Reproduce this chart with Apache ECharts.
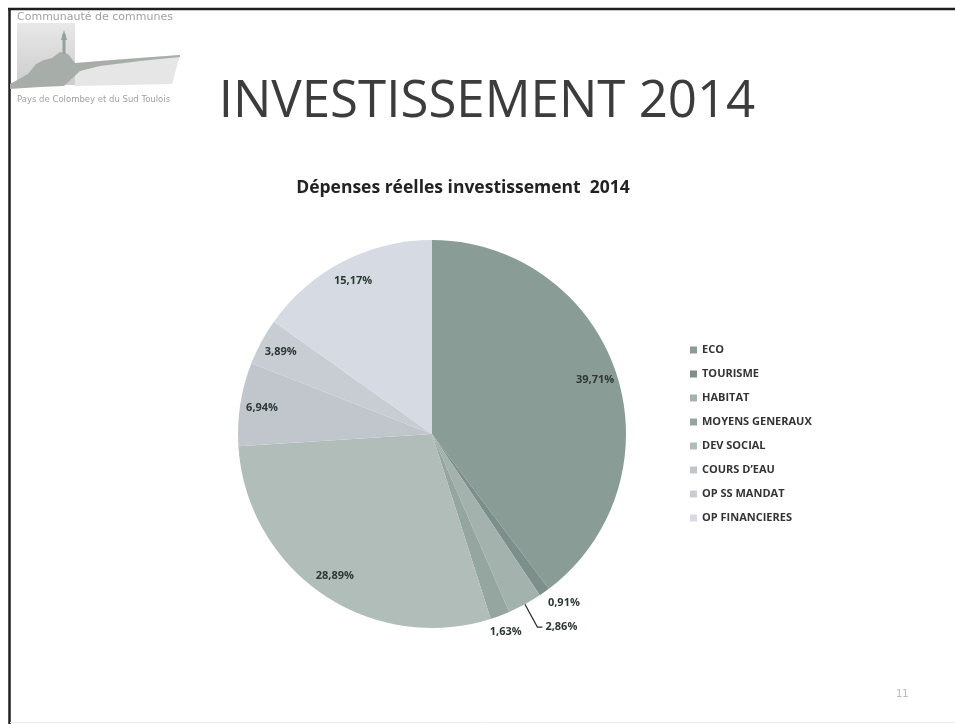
<!DOCTYPE html>
<html><head><meta charset="utf-8">
<script src="https://cdn.jsdelivr.net/npm/echarts@6/dist/echarts.min.js"></script>
<style>html,body{margin:0;padding:0;background:#fff}#c{width:955px;height:724px}</style>
</head><body><div id="c"></div>
<script>
// ---- data ----
const categories = ['ECO', 'TOURISME', 'HABITAT', 'MOYENS GENERAUX', 'DEV SOCIAL', 'COURS D’EAU', 'OP SS MANDAT', 'OP FINANCIERES'];
const values = [39.71, 0.91, 2.86, 1.63, 28.89, 6.94, 3.89, 15.17];
const mainTitle = 'INVESTISSEMENT 2014';
const chartTitle = 'Dépenses réelles investissement  2014';
const pageNumber = '11';

// ---- styles ----
const sliceColors = ['#8a9c96', '#7d8f8a', '#a3b2ad', '#95a6a0', '#b1bdb9', '#c1c6cd', '#c8cdd3', '#d6dae2'];
const labelColor = '#2b3833';
const center = [432, 434];
const R = 194;
// label style for small slices (outside)
const outsideLabel = {
  1: { len: 13, len2: 0, showLine: false, dist: 0, dx: -4 },
  2: { len: 26, len2: 5, showLine: true, dist: 3, dx: 0 },
  3: { len: 16, len2: 0, showLine: false, dist: 0, centerAlign: true }
};

const fmt = v => v.toFixed(2).replace('.', ',') + '%';

const sliceData = categories.map((n, i) => ({ name: n, value: values[i], itemStyle: { color: sliceColors[i] } }));
const labelData = categories.map((n, i) => {
  const o = outsideLabel[i];
  if (!o) return { name: n, value: values[i], label: { position: 'inside' } };
  return {
    name: n, value: values[i],
    label: { position: 'outside', distanceToLabelLine: o.dist },
    labelLine: { show: o.showLine, length: o.len, length2: o.len2, lineStyle: { color: '#2a2a2a', width: 1.2 } }
  };
});

const chart = echarts.init(document.getElementById('c'), null, { renderer: 'canvas' });
chart.setOption({
  backgroundColor: '#ffffff',
  animation: false,
  title: [
    { text: mainTitle, left: 482, top: 72, textAlign: 'center',
      textStyle: { fontFamily: 'Open Sans', fontSize: 51, fontWeight: 'normal', color: '#3c3c3c' } },
    { text: chartTitle, left: 458, top: 174, textAlign: 'center',
      textStyle: { fontFamily: 'Open Sans', fontSize: 17.5, fontWeight: 'bold', color: '#222' } }
  ],
  legend: {
    orient: 'vertical', left: 690, top: 344, padding: 0,
    data: categories, icon: 'rect', itemWidth: 7, itemHeight: 7, itemGap: 12,
    textStyle: { fontFamily: 'Open Sans', fontSize: 11, fontWeight: 'bold', color: '#333', lineHeight: 12 },
    selectedMode: false
  },
  series: [
    {
      type: 'pie', center: center, radius: R, startAngle: 90, clockwise: true,
      label: { show: false }, labelLine: { show: false },
      itemStyle: { borderWidth: 0 },
      emphasis: { disabled: true },
      data: sliceData
    },
    {
      type: 'pie', center: center, radius: [R - 50, R], startAngle: 90, clockwise: true,
      silent: true, avoidLabelOverlap: false,
      itemStyle: { color: 'rgba(0,0,0,0)' },
      label: { show: true, formatter: p => fmt(p.value), fontFamily: 'Open Sans', fontSize: 11, fontWeight: 'bold', color: labelColor },
      labelLayout: function (p) {
        const o = outsideLabel[p.dataIndex];
        if (o && o.centerAlign) return { dx: -p.labelRect.width / 2, dy: 1 };
        if (o && o.dx) return { dx: o.dx };
        return {};
      },
      emphasis: { disabled: true },
      data: labelData
    }
  ],
  graphic: [
    // slide frame
    { type: 'line', shape: { x1: 9.5, y1: 8, x2: 9.5, y2: 724 }, style: { stroke: '#1e1e1e', lineWidth: 2.5 } },
    { type: 'line', shape: { x1: 8, y1: 9, x2: 955, y2: 9 }, style: { stroke: '#1e1e1e', lineWidth: 2.5 } },
    { type: 'line', shape: { x1: 10, y1: 722.5, x2: 955, y2: 722.5 }, style: { stroke: '#ececec', lineWidth: 1 } },
    // logo
    { type: 'text', left: 17, top: 12, style: { text: 'Communauté de communes', font: '11px "DejaVu Sans"', fill: '#a0a0a0' } },
    { type: 'rect', shape: { x: 17, y: 23, width: 58, height: 62 },
      style: { fill: new echarts.graphic.LinearGradient(0, 0, 0, 1, [{ offset: 0, color: '#e8e8e8' }, { offset: 1, color: '#cdcdcd' }]) } },
    { type: 'polygon', shape: { points: [[75, 64], [110, 60], [150, 57], [180, 55], [172, 84], [75, 86]] }, style: { fill: '#e6e6e6' } },
    { type: 'polygon', shape: { points: [[10, 84], [28, 74], [36, 64], [44, 60], [52, 58], [60, 52], [68, 54], [75, 63], [100, 61], [140, 58], [180, 55], [180, 57], [140, 61], [100, 66], [80, 71], [64, 86], [40, 87], [10, 89]] }, style: { fill: '#a7aeaa' } },
    { type: 'rect', shape: { x: 62.5, y: 34, width: 3, height: 20 }, style: { fill: '#9a9f9c' } },
    { type: 'polygon', shape: { points: [[64, 30], [61, 40], [67, 40]] }, style: { fill: '#9a9f9c' } },
    { type: 'text', left: 17, top: 95, style: { text: 'Pays de Colombey et du Sud Toulois', font: '8.5px "DejaVu Sans"', fill: '#a0a0a0' } },
    // page number
    { type: 'text', left: 896, top: 689, style: { text: pageNumber, font: '10px "DejaVu Sans"', fill: '#b8b8b8' } }
  ]
});
</script>
</body></html>
